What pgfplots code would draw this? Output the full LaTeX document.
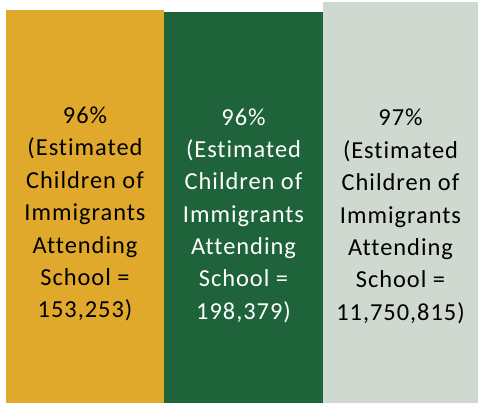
\documentclass[border=0pt]{standalone}
\usepackage{fontspec}
\setmainfont{Carlito}[Ligatures=NoCommon, LetterSpace=4]
\usepackage{pgfplots}
\pgfplotsset{compat=1.18}

\definecolor{barGold}{HTML}{E1A92B}
\definecolor{barGreen}{HTML}{1E6339}
\definecolor{barLight}{HTML}{CFD9D0}

\tikzset{lbl/.style={font=\fontsize{24.5}{32.5}\selectfont, align=center, inner sep=0pt}}

\begin{document}
\begin{tikzpicture}
\begin{axis}[
    width=478bp, height=403bp,
    scale only axis,
    hide axis,
    xmin=0, xmax=478,
    ymin=46.875, ymax=97.25,
    ybar, bar shift=0pt,
    clip=false,
]
    % keep the full canvas, white margin on the left included
    \path (rel axis cs:0,0) rectangle (rel axis cs:1,1);

    % share attending school (%)
    \addplot[fill=barGold, draw=none, bar width=158] coordinates {(85,96)};
    \addplot[fill=barGreen, draw=none, bar width=159] coordinates {(243.5,95.75)};
    \addplot[fill=barLight, draw=none, bar width=155] coordinates {(400.5,97)};

    \node[lbl, text=black] at (axis cs:85,70.5) {96\%\\(Estimated\\Children of\\Immigrants\\Attending\\School =\\153,253)};
    \node[lbl, text=white] at (axis cs:243.5,70.3) {96\%\\(Estimated\\Children of\\Immigrants\\Attending\\School =\\198,379)};
    \node[lbl, text=black] at (axis cs:400.5,70.2) {97\%\\(Estimated\\Children of\\Immigrants\\Attending\\School =\\11,750,815)};
\end{axis}
\end{tikzpicture}
\end{document}
